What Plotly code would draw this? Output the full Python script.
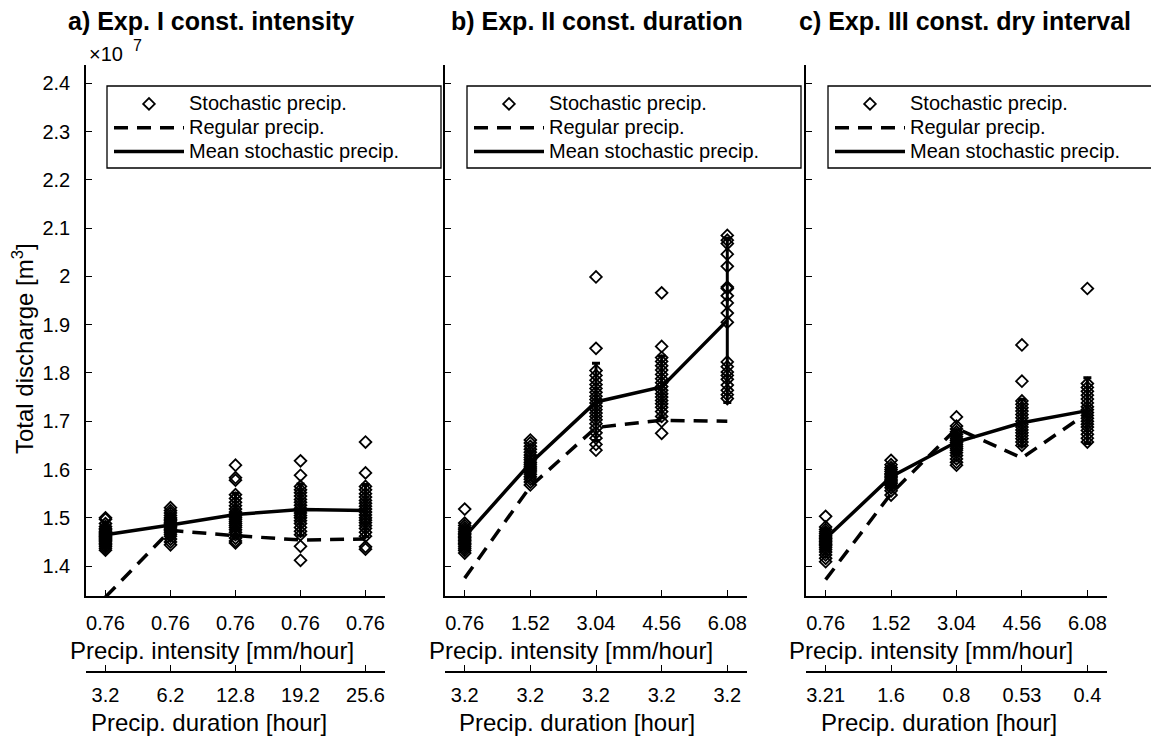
import plotly.graph_objects as go

# The page body has an 8px margin, so the figure is sized to fit the window
OFF = 8
W, H = 1159 - OFF, 743 - OFF

# ---------------- data (units of 1e7 m^3) ----------------
xpos = [1, 2, 3, 4, 5]

intensity_a = ["0.76", "0.76", "0.76", "0.76", "0.76"]
duration_a = ["3.2", "6.2", "12.8", "19.2", "25.6"]
intensity_b = ["0.76", "1.52", "3.04", "4.56", "6.08"]
duration_b = ["3.2", "3.2", "3.2", "3.2", "3.2"]
intensity_c = ["0.76", "1.52", "3.04", "4.56", "6.08"]
duration_c = ["3.21", "1.6", "0.8", "0.53", "0.4"]

stoch_a = [
    [1.500, 1.497, 1.488, 1.482, 1.478, 1.475, 1.472, 1.470, 1.468, 1.466, 1.464, 1.462,
     1.460, 1.458, 1.456, 1.454, 1.452, 1.450, 1.447, 1.444, 1.441, 1.437, 1.433],
    [1.521, 1.515, 1.510, 1.505, 1.500, 1.497, 1.494, 1.491, 1.488, 1.485, 1.482, 1.479,
     1.476, 1.473, 1.470, 1.466, 1.462, 1.456, 1.450, 1.444],
    [1.609, 1.583, 1.578, 1.548, 1.540, 1.532, 1.525, 1.518, 1.512, 1.508, 1.504, 1.500,
     1.496, 1.492, 1.488, 1.484, 1.480, 1.475, 1.470, 1.465, 1.458, 1.452, 1.448],
    [1.618, 1.588, 1.565, 1.558, 1.552, 1.545, 1.538, 1.532, 1.526, 1.520, 1.515, 1.510,
     1.505, 1.500, 1.494, 1.488, 1.480, 1.472, 1.465, 1.441, 1.412],
    [1.657, 1.593, 1.565, 1.558, 1.550, 1.543, 1.536, 1.530, 1.524, 1.518, 1.512, 1.506,
     1.500, 1.495, 1.490, 1.484, 1.478, 1.470, 1.462, 1.440, 1.435],
]
stoch_b = [
    [1.518, 1.489, 1.484, 1.479, 1.475, 1.471, 1.468, 1.465, 1.462, 1.459, 1.456, 1.453,
     1.450, 1.447, 1.444, 1.440, 1.436, 1.432, 1.427],
    [1.661, 1.655, 1.648, 1.642, 1.636, 1.630, 1.625, 1.620, 1.615, 1.611, 1.607, 1.603,
     1.599, 1.595, 1.590, 1.585, 1.580, 1.574, 1.568],
    [1.999, 1.851, 1.805, 1.795, 1.785, 1.776, 1.768, 1.760, 1.752, 1.745, 1.738, 1.731,
     1.724, 1.717, 1.710, 1.703, 1.695, 1.686, 1.676, 1.665, 1.652, 1.640],
    [1.966, 1.855, 1.832, 1.824, 1.815, 1.806, 1.797, 1.788, 1.780, 1.772, 1.764, 1.757,
     1.750, 1.743, 1.736, 1.729, 1.720, 1.710, 1.700, 1.675],
    [2.439, 2.085, 2.075, 2.068, 2.046, 2.021, 1.978, 1.975, 1.960, 1.945, 1.924, 1.905,
     1.823, 1.813, 1.802, 1.795, 1.787, 1.775, 1.764, 1.755, 1.747],
]
stoch_c = [
    [1.503, 1.481, 1.476, 1.471, 1.467, 1.463, 1.460, 1.457, 1.454, 1.451, 1.448, 1.445,
     1.442, 1.438, 1.434, 1.429, 1.423, 1.416, 1.409],
    [1.619, 1.610, 1.604, 1.600, 1.596, 1.592, 1.589, 1.586, 1.583, 1.580, 1.577, 1.574,
     1.571, 1.567, 1.562, 1.556, 1.547],
    [1.709, 1.690, 1.684, 1.678, 1.673, 1.668, 1.664, 1.660, 1.656, 1.652, 1.648, 1.644,
     1.640, 1.635, 1.629, 1.622, 1.615, 1.609],
    [1.858, 1.783, 1.742, 1.735, 1.728, 1.721, 1.714, 1.707, 1.700, 1.694, 1.688, 1.682,
     1.676, 1.670, 1.664, 1.657, 1.650],
    [1.975, 1.778, 1.770, 1.762, 1.754, 1.746, 1.738, 1.730, 1.724, 1.718, 1.712, 1.706,
     1.700, 1.694, 1.688, 1.681, 1.673, 1.665, 1.657],
]

mean_a = [1.465, 1.485, 1.507, 1.517, 1.515]
mean_b = [1.461, 1.613, 1.740, 1.771, 1.909]
mean_c = [1.457, 1.585, 1.657, 1.697, 1.722]

regular_a = [1.336, 1.474, 1.463, 1.454, 1.456]
regular_b = [1.375, 1.565, 1.687, 1.702, 1.700]
regular_c = [1.372, 1.550, 1.685, 1.624, 1.717]

err_a = [0.018, 0.020, 0.044, 0.053, 0.054]
err_b = [0.020, 0.025, 0.080, 0.064, 0.170]
err_c = [0.020, 0.018, 0.025, 0.048, 0.068]

yticks = [1.4, 1.5, 1.6, 1.7, 1.8, 1.9, 2.0, 2.1, 2.2, 2.3, 2.4]
ytick_text = ["1.4", "1.5", "1.6", "1.7", "1.8", "1.9", "2", "2.1", "2.2", "2.3", "2.4"]

titles = ["<b>a) Exp. I const. intensity</b>", "<b>b) Exp. II const. duration</b>",
          "<b>c) Exp. III const. dry interval</b>"]
legend_names = ["Stochastic precip.", "Regular precip.", "Mean stochastic precip."]

# ---------------- layout geometry (window pixels) ----------------
FONT = "Liberation Sans, Arial, sans-serif"
px = lambda v: (v - OFF) / W
py = lambda v: 1 - (v - OFF) / H

x_doms = [(86, 385), (445, 747), (806, 1107)]
y_dom = [py(596), py(65)]
title_cx = [211, 597, 965]
xtitle_cx = [212, 571, 931]
xtitle2_cx = [209, 577, 939]
legend_box = [(107, 441), (467, 801), (828, 1162)]

fig = go.Figure()

panels = [
    (stoch_a, mean_a, regular_a, err_a, intensity_a, duration_a),
    (stoch_b, mean_b, regular_b, err_b, intensity_b, duration_b),
    (stoch_c, mean_c, regular_c, err_c, intensity_c, duration_c),
]

def lname(s):
    return f'<span style="font-size:20px">{s}</span>'

for i, (stoch, mean, reg, err, inten, dur) in enumerate(panels):
    xa = "x" if i == 0 else f"x{i+1}"
    ya = "y" if i == 0 else f"y{i+1}"
    leg = "legend" if i == 0 else f"legend{i+1}"
    sx, sy = [], []
    for xv, col in zip(xpos, stoch):
        sx += [xv] * len(col)
        sy += col
    fig.add_trace(go.Scatter(
        x=sx, y=sy, mode="markers", name=lname(legend_names[0]),
        marker=dict(symbol="diamond-open", size=9, color="black", line=dict(width=1.8, color="black")),
        xaxis=xa, yaxis=ya, legend=leg, cliponaxis=False))
    fig.add_trace(go.Scatter(
        x=xpos, y=reg, mode="lines", name=lname(legend_names[1]),
        line=dict(color="black", width=3.5, dash="14px,9px"),
        xaxis=xa, yaxis=ya, legend=leg))
    fig.add_trace(go.Scatter(
        x=xpos, y=mean, mode="lines", name=lname(legend_names[2]),
        line=dict(color="black", width=3.5),
        error_y=dict(type="data", array=err, visible=True, color="black", thickness=3, width=4),
        xaxis=xa, yaxis=ya, legend=leg))
    # invisible trace on the secondary (duration) axis
    fig.add_trace(go.Scatter(
        x=xpos, y=[None] * 5, mode="markers", showlegend=False, hoverinfo="skip",
        xaxis=f"x{i+4}", yaxis=ya))

    axkey = "xaxis" if i == 0 else f"xaxis{i+1}"
    aykey = "yaxis" if i == 0 else f"yaxis{i+1}"
    common_x = dict(range=[0.7, 5.3], showgrid=False, zeroline=False, showline=True,
                    linecolor="black", linewidth=1.5, ticks="inside", ticklen=6, tickwidth=1.3,
                    tickcolor="black", tickfont=dict(family=FONT, size=20, color="black"),
                    tickmode="array", tickvals=xpos, fixedrange=True)
    fig.layout[axkey] = dict(common_x, domain=[px(x_doms[i][0]), px(x_doms[i][1])],
                             anchor=ya, ticktext=inten, ticklabelstandoff=8)
    fig.layout[f"xaxis{i+4}"] = dict(common_x, overlaying=xa, anchor="free", position=py(672),
                                     side="bottom", ticktext=dur, ticklabelstandoff=5)
    fig.layout[aykey] = dict(domain=y_dom, range=[1.338, 2.438], showgrid=False, zeroline=False,
                             showline=True, linecolor="black", linewidth=1.5, ticks="inside",
                             ticklen=6, tickwidth=1.3, tickcolor="black", anchor=xa,
                             tickmode="array", tickvals=yticks, ticktext=ytick_text,
                             showticklabels=(i == 0), ticklabelstandoff=10,
                             tickfont=dict(family=FONT, size=20, color="black"), fixedrange=True)

    # legend (box drawn as a rectangle behind it)
    lx0, lx1 = legend_box[i]
    fig.layout[leg] = dict(x=px(lx0 + 2), y=py(87), xanchor="left", yanchor="top",
                           bgcolor="rgba(0,0,0,0)", borderwidth=0, itemwidth=70,
                           font=dict(family=FONT, size=16, color="black"), tracegroupgap=0)
    fig.add_shape(type="rect", xref="paper", yref="paper", x0=px(lx0), x1=px(lx1),
                  y0=py(168), y1=py(86), line=dict(color="black", width=1.3),
                  fillcolor="white", layer="above")

    # titles
    fig.add_annotation(text=titles[i], x=px(title_cx[i]), y=py(21), xref="paper", yref="paper",
                       showarrow=False, xanchor="center", yanchor="middle",
                       font=dict(family=FONT, size=25, color="black"))
    fig.add_annotation(text="Precip. intensity [mm/hour]", x=px(xtitle_cx[i]), y=py(650),
                       xref="paper", yref="paper", showarrow=False, xanchor="center",
                       yanchor="middle", font=dict(family=FONT, size=24, color="black"))
    fig.add_annotation(text="Precip. duration [hour]", x=px(xtitle2_cx[i]), y=py(722),
                       xref="paper", yref="paper", showarrow=False, xanchor="center",
                       yanchor="middle", font=dict(family=FONT, size=24, color="black"))

fig.add_annotation(text="Total discharge [m<sup>3</sup>]", x=px(23), y=py(349), xref="paper",
                   yref="paper", showarrow=False, textangle=-90, xanchor="center",
                   yanchor="middle", font=dict(family=FONT, size=24, color="black"))
# exponent label of the y axis
fig.add_annotation(text="×10", x=px(87), y=py(54), xref="paper", yref="paper",
                   showarrow=False, xanchor="left", yanchor="middle",
                   font=dict(family=FONT, size=20, color="black"))
fig.add_annotation(text="7", x=px(131), y=py(45), xref="paper", yref="paper",
                   showarrow=False, xanchor="left", yanchor="middle",
                   font=dict(family=FONT, size=16, color="black"))

fig.update_layout(width=W, height=H, margin=dict(l=0, r=0, t=0, b=0, autoexpand=False),
                  paper_bgcolor="white", plot_bgcolor="white", showlegend=True,
                  font=dict(family=FONT, color="black"))

fig.write_html("out.html")
